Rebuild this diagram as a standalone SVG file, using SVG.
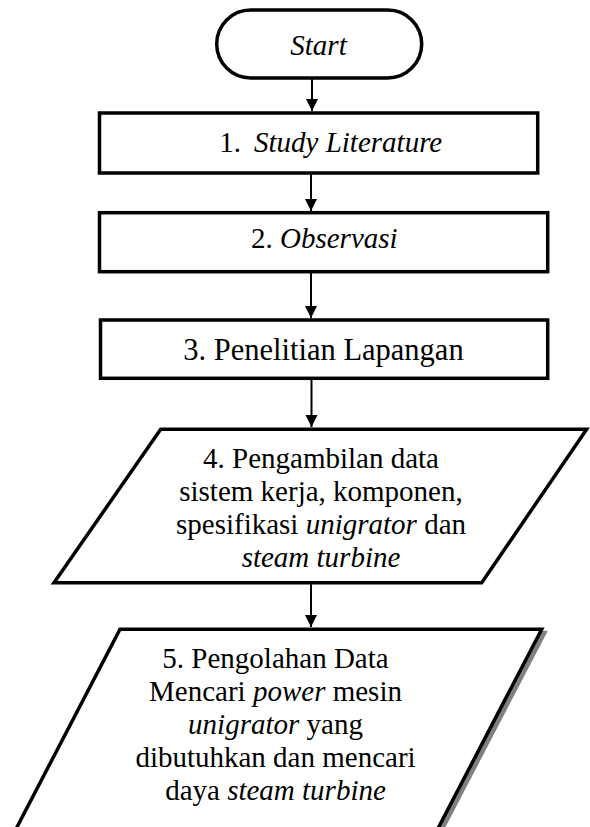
<svg xmlns="http://www.w3.org/2000/svg" width="590" height="827" viewBox="0 0 590 827">
<style>
  .shape { fill: #ffffff; stroke: #000000; stroke-width: 3.5; stroke-linejoin: miter; }
  .shadow { fill: #808080; stroke: #808080; stroke-width: 3.5; }
  .lbl { font-family: "Liberation Serif", "Times New Roman", serif; font-size: 29px; fill: #000000; }
  .mid { text-anchor: middle; }
  .it { font-style: italic; }
  .conn { stroke: #000000; stroke-width: 2; fill: none; marker-end: url(#arrow); }
</style>
<defs>
  <marker id="arrow" markerUnits="userSpaceOnUse" markerWidth="12" markerHeight="13" refX="12" refY="6" orient="auto">
    <path d="M0,0 L12,6 L0,12 z" fill="#000000"/>
  </marker>
</defs>
<rect width="590" height="827" fill="#ffffff"/>

<g id="connectors">
  <line class="conn" x1="312" y1="78" x2="312" y2="111"/>
  <line class="conn" x1="311" y1="173" x2="311" y2="211"/>
  <line class="conn" x1="311" y1="272" x2="311" y2="318"/>
  <line class="conn" x1="311.5" y1="378" x2="311.5" y2="427"/>
  <line class="conn" x1="311" y1="583" x2="311" y2="627"/>
</g>

<g id="start">
  <rect class="shape" x="216.7" y="10" width="205" height="68" rx="34" ry="34"/>
  <text class="lbl mid it" x="318.5" y="55">Start</text>
</g>

<g id="step1">
  <rect class="shape" x="99.5" y="113" width="438.2" height="60"/>
  <text class="lbl" x="219.3" y="151.7">1.<tspan class="it" x="254">Study Literature</tspan></text>
</g>

<g id="step2">
  <rect class="shape" x="99.5" y="212.7" width="448.2" height="59"/>
  <text class="lbl" x="251" y="248.3">2. <tspan class="it">Observasi</tspan></text>
</g>

<g id="step3">
  <rect class="shape" x="100.5" y="320" width="447.2" height="58.3"/>
  <text class="lbl" x="183.3" y="360" style="font-size:30.5px">3. Penelitian Lapangan</text>
</g>

<g id="step4">
  <polygon class="shape" points="160.7,429.3 586.7,429.3 481.7,582.7 54,582.7"/>
  <text class="lbl mid" x="321" y="467.5">4. Pengambilan data</text>
  <text class="lbl mid" x="321" y="501">sistem kerja, komponen,</text>
  <text class="lbl mid" x="321" y="534">spesifikasi <tspan class="it">unigrator</tspan> dan</text>
  <text class="lbl mid it" x="321" y="567">steam turbine</text>
</g>

<g id="step5">
  <polygon class="shadow" points="123.5,632.5 545,632.5 429,855 7,855"/>
  <polygon class="shape" points="120,629.3 541.7,629.3 425.7,852 4,852"/>
  <text class="lbl mid" x="275.5" y="668">5. Pengolahan Data</text>
  <text class="lbl mid" x="275.5" y="701">Mencari <tspan class="it">power</tspan> mesin</text>
  <text class="lbl mid" x="275.5" y="734"><tspan class="it">unigrator</tspan> yang</text>
  <text class="lbl mid" x="275.5" y="767">dibutuhkan dan mencari</text>
  <text class="lbl mid" x="275.5" y="800">daya <tspan class="it">steam turbine</tspan></text>
</g>
</svg>
